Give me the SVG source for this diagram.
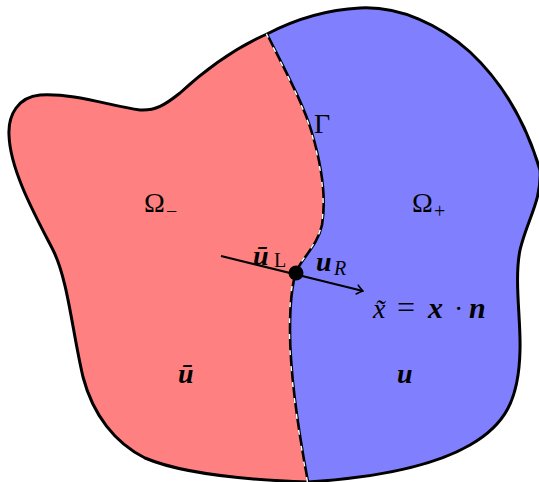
<svg xmlns="http://www.w3.org/2000/svg" width="539" height="482" viewBox="0 0 539 482">
<defs>
<style>
.outline{fill:none;stroke:#000;stroke-width:3;stroke-linejoin:round}
.iface{fill:none;stroke:#000;stroke-width:2.6}
.dash{fill:none;stroke:#fff;stroke-width:1.5;stroke-dasharray:5 11}
.m{font-family:"Liberation Serif","DejaVu Serif",serif;font-size:28px;fill:#000}
.it{font-style:italic}
.bi{font-style:italic;font-weight:bold}
.sub{font-size:20px}
</style>
<marker id="arr" viewBox="-7 -6 8 12" markerWidth="8" markerHeight="12" refX="0" refY="0" orient="auto" markerUnits="userSpaceOnUse">
<path d="M-6,-4.5 Q-2,-1 0,0 Q-2,1 -6,4.5" fill="none" stroke="#000" stroke-width="1.6" stroke-linecap="round"/>
</marker>
</defs>
<g id="omega-minus">
<path fill="#FF8080" d="M267,34 C235,48 205,70 180,93 C165,105 155,111 140,110 C110,106 75,93 40,95 C18,97 8,115 9,135 C10,170 35,215 53,250 C68,280 72,330 83,377 C93,415 115,443 145,458 C185,475 250,480 308,482 C302,450 290,380 290,330 C290,300 292,285 296,272 C302,258 318,245 322,225 C327,195 320,160 312,133 C304,105 285,70 267,34 Z"/>
</g>
<g id="omega-plus">
<path fill="#8080FF" d="M267,34 C290,22 320,10 360,8 C400,6 440,25 470,52 C500,80 525,120 540,170 C542,200 527,220 520,250 C514,280 521,320 520,350 C519,400 505,425 470,445 C430,468 370,478 308,482 C302,450 290,380 290,330 C290,300 292,285 296,272 C302,258 318,245 322,225 C327,195 320,160 312,133 C304,105 285,70 267,34 Z"/>
</g>
<g id="boundary">
<path class="outline" d="M267,34 C235,48 205,70 180,93 C165,105 155,111 140,110 C110,106 75,93 40,95 C18,97 8,115 9,135 C10,170 35,215 53,250 C68,280 72,330 83,377 C93,415 115,443 145,458 C185,475 250,480 308,482"/>
<path class="outline" d="M267,34 C290,22 320,10 360,8 C400,6 440,25 470,52 C500,80 525,120 540,170 C542,200 527,220 520,250 C514,280 521,320 520,350 C519,400 505,425 470,445 C430,468 370,478 308,482"/>
</g>
<g id="interface">
<path class="iface" d="M308,482 C302,450 290,380 290,330 C290,300 292,285 296,272 C302,258 318,245 322,225 C327,195 320,160 312,133 C304,105 285,70 267,34"/>
<path class="dash" transform="translate(-0.6,0)" d="M308,482 C302,450 290,380 290,330 C290,300 292,285 296,272 C302,258 318,245 322,225 C327,195 320,160 312,133 C304,105 285,70 267,34"/>
</g>
<g id="connectors">
<line x1="221" y1="256" x2="363" y2="291" stroke="#000" stroke-width="2" marker-end="url(#arr)"/>
</g>
<g id="point">
<circle cx="296" cy="273" r="7.5" fill="#000"/>
</g>
<g id="labels">
<text class="m" x="314" y="133">Γ</text>
<text class="m" x="144" y="212">Ω<tspan class="sub" x="166" dy="6">−</tspan></text>
<text class="m" x="412" y="212">Ω<tspan class="sub" x="434" dy="6">+</tspan></text>
<text class="m bi" x="253" y="265">ū<tspan class="sub" font-style="normal" font-weight="normal" x="274" dy="2">L</tspan></text>
<text class="m bi" x="316" y="271">u<tspan class="sub it" font-weight="normal" x="334" dy="4">R</tspan></text>
<text class="m" y="318"><tspan class="it" x="373">x̃</tspan><tspan x="397" font-size="32">=</tspan><tspan class="bi" x="428" font-size="30">x</tspan><tspan x="454">·</tspan><tspan class="bi" x="469" font-size="30">n</tspan></text>
<text class="m bi" x="178" y="383">ū</text>
<text class="m bi" x="397" y="383">u</text>
</g>
</svg>
